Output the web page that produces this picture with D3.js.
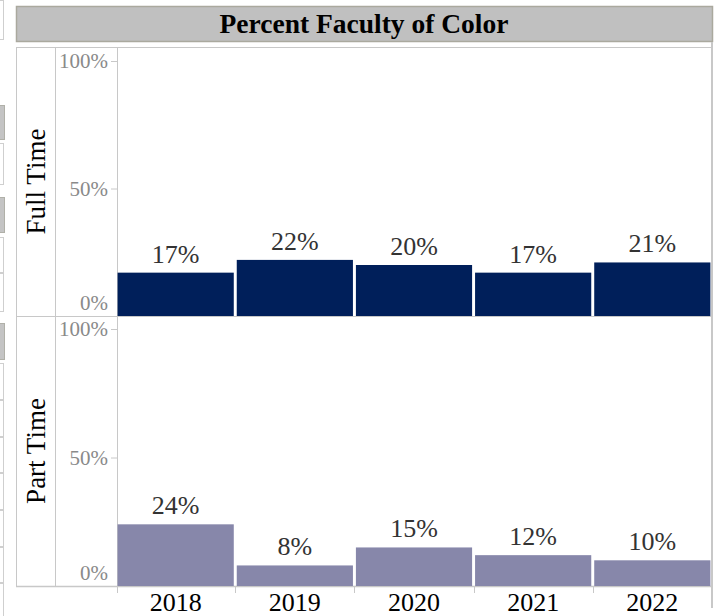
<!DOCTYPE html>
<html>
<head>
<meta charset="utf-8">
<script src="https://cdn.jsdelivr.net/npm/d3@7"></script>
<style>
  body { margin: 0; background: #fff; }
  svg { display: block; font-family: "Liberation Serif", "Times New Roman", serif; }
</style>
</head>
<body>
<div id="chart"></div>
<script>
// data
const years = ["2018", "2019", "2020", "2021", "2022"];
const fullTime = [17, 22, 20, 17, 21];
const partTime = [24, 8, 15, 12, 10];
const rowNames = ["Full Time", "Part Time"];
const yTicks = [0, 50, 100];
const title = "Percent Faculty of Color";

const width = 719, height = 616;
const lineColor = "#c8c8c8";

const svg = d3.select("#chart").append("svg")
    .attr("width", width)
    .attr("height", height);

// cut-off pieces of neighbouring panels on the left edge
const leftBoxes = [
    {y0: 0, y1: 40, gray: false},
    {y0: 105, y1: 140, gray: true},
    {y0: 143, y1: 185, gray: false},
    {y0: 197, y1: 233, gray: true},
    {y0: 237, y1: 273, gray: false},
    {y0: 273, y1: 312, gray: false},
    {y0: 323, y1: 360, gray: true},
    {y0: 363, y1: 400, gray: false},
    {y0: 400, y1: 437, gray: false},
    {y0: 437, y1: 473, gray: false},
    {y0: 473, y1: 510, gray: false},
    {y0: 510, y1: 547, gray: false},
    {y0: 547, y1: 583, gray: false},
    {y0: 583, y1: 620, gray: false}
];
svg.append("g").selectAll("rect")
    .data(leftBoxes)
    .join("rect")
    .attr("x", -5)
    .attr("y", d => d.y0 + 0.5)
    .attr("width", d => d.gray ? 9.5 : 8.5)
    .attr("height", d => d.y1 - d.y0 - 1)
    .attr("fill", d => d.gray ? "#c4c4c4" : "#fff")
    .attr("stroke", d => d.gray ? "#b0b0a8" : "#cfcfcf");

// title bar
svg.append("rect")
    .attr("x", 16.5).attr("y", 6.5)
    .attr("width", 696).attr("height", 35)
    .attr("fill", "#c0c0c0")
    .attr("stroke", "#aaa99e")
    .attr("stroke-width", 1.5);
svg.append("text")
    .attr("x", 364).attr("y", 33)
    .attr("text-anchor", "middle")
    .attr("font-weight", "bold")
    .attr("font-size", 27.5)
    .attr("fill", "#000")
    .text(title);

// layout
const left = 16, headerRight = 55, plotLeft = 117, plotRight = 711;
const rows = [
    {name: rowNames[0], values: fullTime, top: 47, bottom: 316, y100: 61, color: "#001f5a"},
    {name: rowNames[1], values: partTime, top: 316, bottom: 586, y100: 329, color: "#8787aa"}
];

const x = d3.scaleBand()
    .domain(years)
    .range([plotLeft, plotRight])
    .paddingInner(0.025)
    .paddingOuter(0.005);

const frame = svg.append("g")
    .attr("stroke", lineColor)
    .attr("fill", "none");

rows.forEach(row => {
    const y = d3.scaleLinear().domain([0, 100]).range([row.bottom, row.y100]);
    const g = svg.append("g");

    // row header
    g.append("text")
        .attr("transform", `translate(${(left + headerRight) / 2 + 9},${(row.top + row.bottom) / 2}) rotate(-90)`)
        .attr("text-anchor", "middle")
        .attr("font-size", 27)
        .attr("fill", "#000")
        .text(row.name);

    // bars
    g.selectAll(".bar")
        .data(row.values.map((v, i) => ({year: years[i], value: v})))
        .join("rect")
        .attr("class", "bar")
        .attr("x", d => x(d.year))
        .attr("y", d => y(d.value))
        .attr("width", x.bandwidth())
        .attr("height", d => y(0) - y(d.value))
        .attr("fill", row.color);

    // bar labels
    g.selectAll(".lbl")
        .data(row.values.map((v, i) => ({year: years[i], value: v})))
        .join("text")
        .attr("class", "lbl")
        .attr("x", d => x(d.year) + x.bandwidth() / 2)
        .attr("y", d => y(d.value) - 10)
        .attr("text-anchor", "middle")
        .attr("font-size", 26)
        .attr("fill", "#333")
        .text(d => d.value + "%");

    // y axis
    const axis = g.append("g")
        .attr("transform", `translate(${plotLeft},0)`)
        .call(d3.axisLeft(y).tickValues(yTicks).tickSize(6).tickFormat(d => d + "%"));
    axis.select(".domain").remove();
    axis.selectAll(".tick line").attr("stroke", lineColor);
    axis.selectAll(".tick text")
        .attr("x", -9)
        .attr("font-family", "Liberation Serif, Times New Roman, serif")
        .attr("font-size", 21)
        .attr("fill", "#8a8a8a")
        .attr("dy", d => d === 0 ? "-0.3em" : "0.32em");
});

// panel lines
frame.append("line").attr("x1", left).attr("x2", plotRight).attr("y1", 47.5).attr("y2", 47.5);
frame.append("line").attr("x1", left).attr("x2", plotRight).attr("y1", 316.5).attr("y2", 316.5);
frame.append("line").attr("x1", left).attr("x2", plotRight).attr("y1", 586.5).attr("y2", 586.5)
    .attr("stroke-width", 1.5);
frame.append("line").attr("x1", left + 0.5).attr("x2", left + 0.5).attr("y1", 47).attr("y2", 587);
frame.append("line").attr("x1", headerRight + 0.5).attr("x2", headerRight + 0.5).attr("y1", 47).attr("y2", 587);
frame.append("line").attr("x1", plotLeft + 0.5).attr("x2", plotLeft + 0.5).attr("y1", 47).attr("y2", 587);
frame.append("line").attr("x1", plotRight + 1).attr("x2", plotRight + 1).attr("y1", 42).attr("y2", 608)
    .attr("stroke-width", 2);

// x axis: band boundaries and year labels
const bounds = years.map(yr => x(yr) - x.step() * x.paddingInner() / 2);
bounds[0] = plotLeft;
bounds.push(plotRight);
frame.selectAll(".xtick")
    .data(bounds)
    .join("line")
    .attr("x1", d => Math.round(d) + 0.5)
    .attr("x2", d => Math.round(d) + 0.5)
    .attr("y1", 586)
    .attr("y2", 593);

svg.append("g").selectAll("text")
    .data(years)
    .join("text")
    .attr("x", d => x(d) + x.bandwidth() / 2)
    .attr("y", 611)
    .attr("text-anchor", "middle")
    .attr("font-size", 26)
    .attr("fill", "#000")
    .text(d => d);
</script>
</body>
</html>
